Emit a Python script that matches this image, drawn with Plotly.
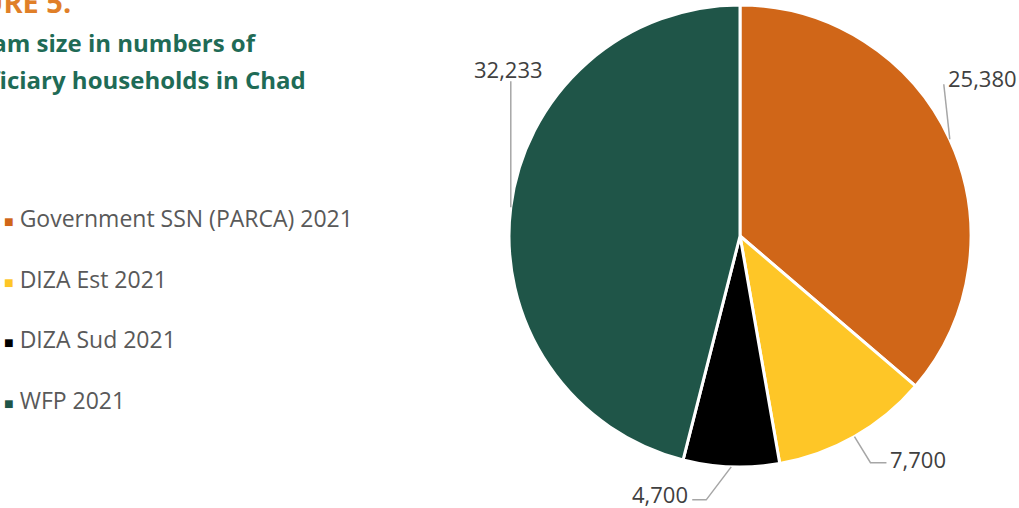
"""
Figure 5: programme size in numbers of beneficiary households in Chad (pie).
"""

import math

import plotly.graph_objects as go

programs = ["Government SSN (PARCA) 2021", "DIZA Est 2021", "DIZA Sud 2021", "WFP 2021"]
households = [25380, 7700, 4700, 32233]
colors = ["#d06618", "#fec627", "#000000", "#1f5548"]

W, H = 1019, 508
CX, CY, R = 740, 236, 231  # pie centre / radius in pixels
FONT = "Open Sans"

# leader-line bends (pixel offsets from the slice edge) and label anchors
LEADERS = [
    {"pts": [(-6, -55)], "text": (-4, -61), "anchor": "left"},
    {"pts": [(16, 26), (32, 26)], "text": (34, 22), "anchor": "left"},
    {"pts": [(-25, 33), (-39, 33)], "text": (-41, 27), "anchor": "right"},
    {"pts": [(0, -126)], "text": (-2, -138), "anchor": "center"},
]


def px(x):
    return x / W


def py(y):
    return 1 - y / H


fig = go.Figure(
    go.Pie(
        labels=programs,
        values=households,
        sort=False,
        direction="clockwise",
        rotation=0,
        marker={"colors": colors, "line": {"color": "white", "width": 3}},
        textinfo="none",
        hoverinfo="label+value",
        domain={"x": [px(CX - R), px(CX + R)], "y": [py(CY + R), py(CY - R)]},
        showlegend=False,
    )
)

total = sum(households)
start = 0.0
shapes = []
annotations = []
for value, leader in zip(households, LEADERS):
    mid = (start + value / 2) / total * 2 * math.pi
    start += value
    ex = CX + R * math.sin(mid)
    ey = CY - R * math.cos(mid)
    path = f"M {px(ex)},{py(ey)}"
    for dx, dy in leader["pts"]:
        path += f" L {px(ex + dx)},{py(ey + dy)}"
    shapes.append(
        {
            "type": "path",
            "xref": "paper",
            "yref": "paper",
            "path": path,
            "line": {"color": "#a6a6a6", "width": 1.5},
        }
    )
    tx, ty = leader["text"]
    annotations.append(
        {
            "x": px(ex + tx),
            "y": py(ey + ty),
            "xref": "paper",
            "yref": "paper",
            "text": f"{value:,}",
            "showarrow": False,
            "xanchor": leader["anchor"],
            "yanchor": "middle",
            "font": {"family": FONT, "size": 22, "color": "#404040"},
        }
    )

# legend drawn as text so the rows can keep their wide spacing
for i, (name, color) in enumerate(zip(programs, colors)):
    annotations.append(
        {
            "x": px(2),
            "y": py(218 + i * 60.7),
            "xref": "paper",
            "yref": "paper",
            "text": f"<span style='color:{color};font-size:16px'>■</span> {name}",
            "showarrow": False,
            "xanchor": "left",
            "yanchor": "middle",
            "font": {"family": FONT, "size": 23, "color": "#595959"},
        }
    )

# title block, cut off at the left edge as in the source
title_lines = [
    ("FIGURE 5.", 73, 2, "#e07f28", 29),
    ("Program size in numbers of", 259, 43, "#1f6b56", 24),
    ("beneficiary households in Chad", 308, 80, "#1f6b56", 24),
]
for text, right, y, color, size in title_lines:
    annotations.append(
        {
            "x": px(right),
            "y": py(y),
            "xref": "paper",
            "yref": "paper",
            "text": f"<b>{text}</b>",
            "showarrow": False,
            "xanchor": "right",
            "yanchor": "middle",
            "font": {"family": FONT, "size": size, "color": color},
        }
    )

fig.update_layout(
    width=W,
    height=H,
    margin={"l": 0, "r": 0, "t": 0, "b": 0},
    paper_bgcolor="white",
    shapes=shapes,
    annotations=annotations,
)

# the page body has an 8px default margin; drop it so the figure fills the window
fig.write_html(
    "out.html",
    config={"displayModeBar": False},
    post_script="document.body.style.margin = '0';",
)
